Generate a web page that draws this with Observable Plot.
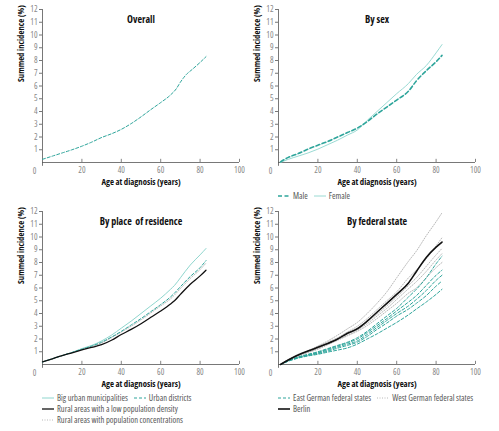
<!DOCTYPE html>
<html>
<head>
<meta charset="utf-8">
<script src="https://cdn.jsdelivr.net/npm/d3@7"></script>
<script src="https://cdn.jsdelivr.net/npm/@observablehq/plot@0.6"></script>
<style>
  html, body { margin: 0; padding: 0; background: #fff; }
  #root { position: relative; width: 499px; height: 431px; overflow: hidden;
    font-family: "Open Sans", sans-serif; font-stretch: 75%; }
  .panel { position: absolute; }
  .panel svg text { font-stretch: 75%; }
  .legend { position: absolute; font-size: 8.5px; color: #555; line-height: 11px; font-stretch: 75%; }
  .legend .row { display: flex; align-items: center; height: 11px; white-space: nowrap; }
  .legend .item { display: inline-flex; align-items: center; margin-right: 6px; }
  .legend svg { margin-right: 3px; }
</style>
</head>
<body>
<div id="root"></div>
<script>
// ---------- data ----------
const xTicks = [20, 40, 60, 80, 100];
const yTicks = [1, 2, 3, 4, 5, 6, 7, 8, 9, 10, 11, 12];
const zeroLabel = ["0"];
const xTitle = ["Age at diagnosis (years)"];
const yTitle = ["Summed incidence (%)"];
const panelTitles = ["Overall", "By sex", "By place  of residence", "By federal state"];

const overallAge = [0, 5, 10, 15, 20, 25, 30, 35, 40, 45, 50, 55, 60, 65, 68, 70, 73, 76, 80, 83];
const overall =    [0.25, 0.5, 0.75, 1.0, 1.28, 1.6, 1.96, 2.25, 2.6, 3.05, 3.58, 4.15, 4.7, 5.3, 5.8, 6.3, 6.9, 7.3, 7.85, 8.3];

const sexAge = [1, 5, 10, 15, 20, 25, 30, 35, 40, 45, 50, 55, 60, 66, 70, 75, 80, 83];
const male =   [0.05, 0.4, 0.7, 1.05, 1.36, 1.65, 2.0, 2.35, 2.7, 3.2, 3.8, 4.35, 4.9, 5.6, 6.4, 7.2, 7.9, 8.4];
const female = [0, 0.25, 0.5, 0.75, 1.05, 1.4, 1.75, 2.15, 2.55, 3.3, 4.0, 4.7, 5.4, 6.2, 6.9, 7.6, 8.6, 9.25];
const sexNames = ["Male", "Female"];

const placeAge = [0, 5, 10, 15, 20, 25, 30, 35, 40, 45, 50, 55, 60, 65, 67, 70, 75, 80, 83];
const bigUrban =       [0.2, 0.45, 0.7, 0.95, 1.25, 1.5, 1.85, 2.3, 2.85, 3.4, 4.0, 4.6, 5.2, 5.9, 6.2, 6.8, 7.8, 8.6, 9.1];
const urbanDistricts = [0.2, 0.45, 0.7, 0.95, 1.2, 1.45, 1.75, 2.15, 2.6, 3.1, 3.6, 4.15, 4.7, 5.3, 5.6, 6.1, 6.9, 7.6, 8.15];
const ruralLow =       [0.2, 0.45, 0.7, 0.92, 1.15, 1.35, 1.55, 1.9, 2.35, 2.75, 3.2, 3.7, 4.2, 4.75, 5.0, 5.5, 6.3, 6.95, 7.4];
const ruralConc =      [0.2, 0.45, 0.7, 0.93, 1.18, 1.42, 1.7, 2.1, 2.55, 3.0, 3.5, 4.05, 4.6, 5.15, 5.45, 5.95, 6.75, 7.45, 7.95];
const placeNames = ["Big urban municipalities", "Urban districts", "Rural areas with a low population density", "Rural areas with population concentrations"];

const stateAge = [1, 5, 10, 15, 20, 25, 30, 35, 40, 45, 50, 55, 60, 66, 70, 75, 80, 83];
const berlin = [0, 0.35, 0.75, 1.05, 1.35, 1.65, 2.0, 2.45, 2.8, 3.4, 4.1, 4.8, 5.5, 6.4, 7.3, 8.4, 9.2, 9.6];
const west1 = [0, 0.4, 0.8, 1.1, 1.45, 1.85, 2.3, 2.8, 3.3, 4.0, 4.8, 5.7, 6.8, 8.1, 8.9, 10.1, 11.2, 11.9];
const west2 = [0, 0.38, 0.75, 1.05, 1.4, 1.75, 2.1, 2.55, 3.0, 3.6, 4.3, 5.0, 5.7, 6.8, 7.4, 8.3, 9.3, 9.95];
const west3 = [0, 0.36, 0.72, 1.0, 1.3, 1.65, 2.0, 2.4, 2.8, 3.35, 3.95, 4.6, 5.3, 6.2, 6.8, 7.7, 8.6, 9.1];
const west4 = [0, 0.35, 0.7, 0.97, 1.25, 1.6, 1.95, 2.3, 2.7, 3.2, 3.8, 4.4, 5.1, 5.95, 6.5, 7.3, 8.2, 8.7];
const west5 = [0, 0.34, 0.68, 0.94, 1.2, 1.55, 1.9, 2.25, 2.6, 3.05, 3.6, 4.2, 4.8, 5.6, 6.0, 6.8, 7.6, 8.0];
const east1 = [0, 0.3, 0.6, 0.8, 1.0, 1.25, 1.5, 1.75, 2.1, 2.6, 3.2, 3.8, 4.4, 5.3, 5.9, 6.8, 7.9, 8.5];
const east2 = [0, 0.3, 0.57, 0.77, 0.95, 1.2, 1.45, 1.7, 2.0, 2.5, 3.05, 3.6, 4.2, 4.9, 5.4, 6.2, 7.0, 7.4];
const east3 = [0, 0.28, 0.55, 0.73, 0.9, 1.13, 1.37, 1.6, 1.85, 2.35, 2.9, 3.45, 4.0, 4.6, 5.1, 5.8, 6.6, 7.0];
const east4 = [0, 0.27, 0.52, 0.7, 0.85, 1.05, 1.28, 1.5, 1.75, 2.2, 2.75, 3.25, 3.8, 4.35, 4.8, 5.4, 6.15, 6.55];
const east5 = [0, 0.26, 0.5, 0.67, 0.8, 0.97, 1.13, 1.3, 1.6, 2.0, 2.4, 2.85, 3.3, 3.9, 4.35, 4.9, 5.5, 5.9];
const stateNames = ["East German federal states", "West German federal states", "Berlin"];

// ---------- styles ----------
const TEAL = "#2ea59b";
const LTEAL = "#8fd6ce";
const GRAY = "#a6a6a6";
const BLACK = "#111";
const styles = {
  overall: {stroke: TEAL, strokeWidth: 1, strokeDasharray: "3,2"},
  male:    {stroke: TEAL, strokeWidth: 1.6, strokeDasharray: "4,2.5"},
  female:  {stroke: LTEAL, strokeWidth: 0.9},
  big:     {stroke: LTEAL, strokeWidth: 1},
  urban:   {stroke: TEAL, strokeWidth: 1, strokeDasharray: "3,2"},
  rural:   {stroke: BLACK, strokeWidth: 1.3},
  conc:    {stroke: GRAY, strokeWidth: 0.8, strokeDasharray: "1,1.5"},
  east:    {stroke: TEAL, strokeWidth: 1, strokeDasharray: "3,2"},
  west:    {stroke: GRAY, strokeWidth: 0.8, strokeDasharray: "1,1.5"},
  berlin:  {stroke: BLACK, strokeWidth: 1.6}
};

const FONT = '"Open Sans", sans-serif';

function rows(ages, vals) { return ages.map((a, i) => ({age: a, v: vals[i]})); }

function makePanel(title, series) {
  const lines = series.map(s => Plot.line(rows(s.ages, s.vals), {x: "age", y: "v", curve: "monotone-x", ...s.style}));
  return Plot.plot({
    width: 250, height: 192,
    marginLeft: 42, marginRight: 11, marginTop: 9, marginBottom: 30,
    style: {fontFamily: FONT, fontStretch: "75%", background: "transparent", overflow: "visible"},
    x: {domain: [0, 100]},
    y: {domain: [0, 12]},
    marks: [
      Plot.axisY(yTicks, {tickSize: 3, tickPadding: 2, fontSize: 8.5, fill: "#888", stroke: "#777", label: null}),
      Plot.axisX(xTicks, {tickSize: 0, tickPadding: 4, fontSize: 8.5, fill: "#888", label: null}),
      Plot.ruleX(xTicks, {y1: 0, y2: 0.25, stroke: "#666", strokeWidth: 0.8}),
      Plot.ruleY([0], {x1: 0, x2: 100, stroke: "#555", strokeWidth: 0.8}),
      Plot.ruleX([0], {y1: -0.3, y2: 12, stroke: "#555", strokeWidth: 0.8}),
      Plot.text(zeroLabel, {x: 0, y: 0, text: d => d, dx: -8, dy: 9, fontSize: 8.5, fill: "#888"}),
      Plot.text([title], {frameAnchor: "top", dy: 6, fontWeight: "bold", fontSize: 10, fill: "#111"}),
      Plot.text(xTitle, {frameAnchor: "bottom", dy: 22, fontWeight: "bold", fontSize: 8.7, fill: "#111"}),
      Plot.text(yTitle, {frameAnchor: "left", dx: -21, dy: -4, rotate: -90, fontWeight: "bold", fontSize: 8.7, fill: "#111"}),
      ...lines
    ]
  });
}

function swatch(st, w = 12) {
  const dash = st.strokeDasharray ? `stroke-dasharray="${st.strokeDasharray}"` : "";
  return `<svg width="${w}" height="6"><line x1="0" y1="3" x2="${w}" y2="3" stroke="${st.stroke}" stroke-width="${st.strokeWidth}" ${dash}/></svg>`;
}

function legend(rowsSpec, left, top) {
  const div = document.createElement("div");
  div.className = "legend";
  div.style.left = left + "px";
  div.style.top = top + "px";
  div.innerHTML = rowsSpec.map(r => `<div class="row">${r.map(it => `<span class="item">${swatch(it.style)}${it.label}</span>`).join("")}</div>`).join("");
  return div;
}

const root = document.getElementById("root");
function place(node, left, top) {
  const d = document.createElement("div");
  d.className = "panel";
  d.style.left = left + "px";
  d.style.top = top + "px";
  d.appendChild(node);
  root.appendChild(d);
}

place(makePanel(panelTitles[0], [{ages: overallAge, vals: overall, style: styles.overall}]), 0, 0);

place(makePanel(panelTitles[1], [
  {ages: sexAge, vals: female, style: styles.female},
  {ages: sexAge, vals: male, style: styles.male}
]), 236, 0);
root.appendChild(legend([[{label: sexNames[0], style: styles.male}, {label: sexNames[1], style: styles.female}]], 278, 190));

place(makePanel(panelTitles[2], [
  {ages: placeAge, vals: ruralConc, style: styles.conc},
  {ages: placeAge, vals: bigUrban, style: styles.big},
  {ages: placeAge, vals: urbanDistricts, style: styles.urban},
  {ages: placeAge, vals: ruralLow, style: styles.rural}
]), 0, 202);
root.appendChild(legend([
  [{label: placeNames[0], style: styles.big}, {label: placeNames[1], style: styles.urban}],
  [{label: placeNames[2], style: styles.rural}],
  [{label: placeNames[3], style: styles.conc}]
], 42, 392));

const westSeries = [west1, west2, west3, west4, west5].map(v => ({ages: stateAge, vals: v, style: styles.west}));
const eastSeries = [east1, east2, east3, east4, east5].map(v => ({ages: stateAge, vals: v, style: styles.east}));
place(makePanel(panelTitles[3], [
  ...westSeries, ...eastSeries,
  {ages: stateAge, vals: berlin, style: styles.berlin}
]), 236, 202);
root.appendChild(legend([
  [{label: stateNames[0], style: styles.east}, {label: stateNames[1], style: styles.west}],
  [{label: stateNames[2], style: styles.berlin}]
], 278, 392));
</script>
</body>
</html>
